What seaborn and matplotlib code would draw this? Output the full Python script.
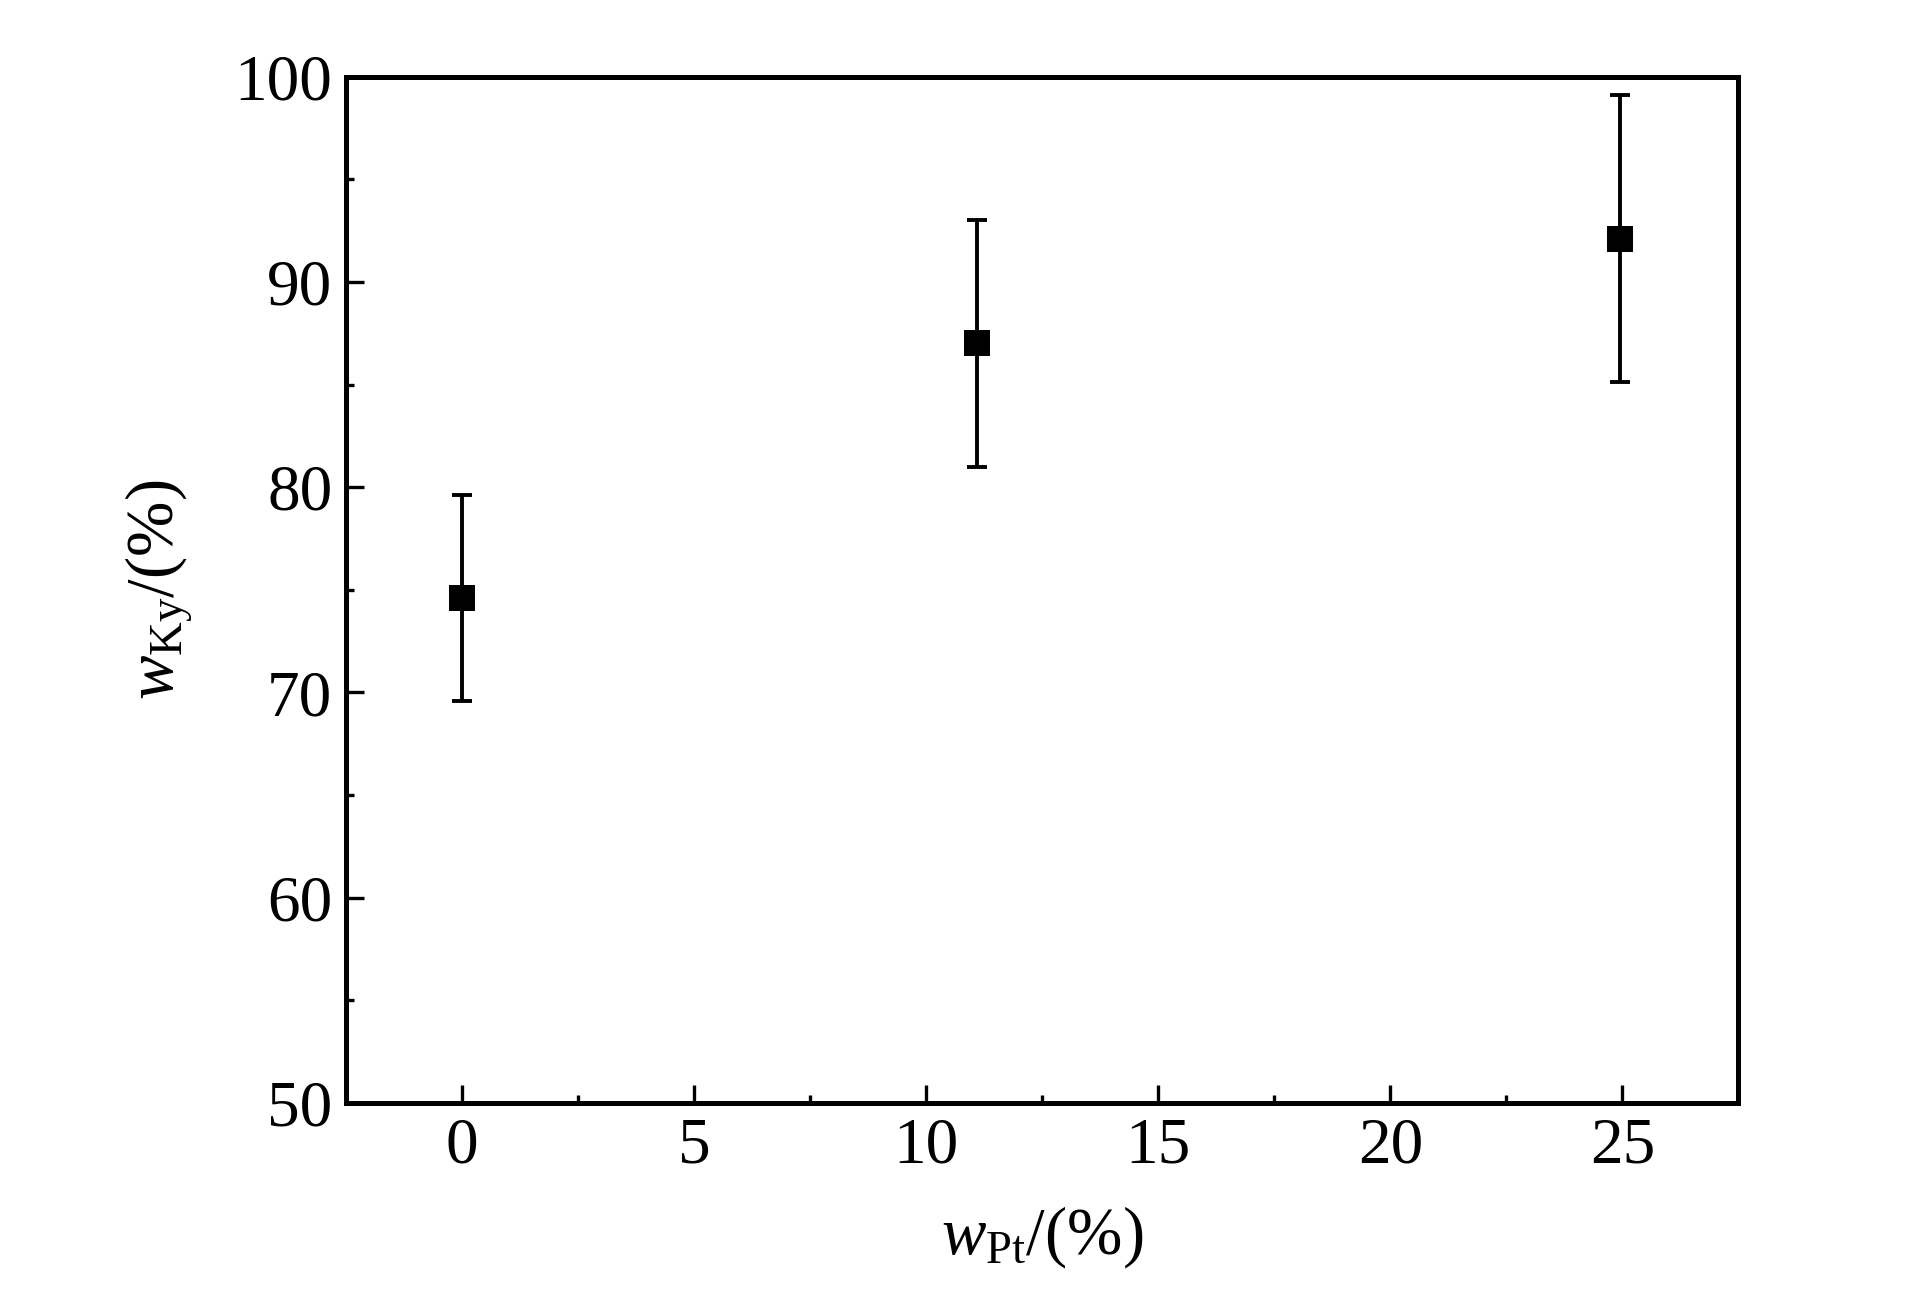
import numpy as np
import pandas as pd
import seaborn as sns
import matplotlib.pyplot as plt
from matplotlib.ticker import MultipleLocator

w_pt = [0, 11.1, 24.95]
w_ky = [74.6, 87.0, 92.1]
err = [5.0, 6.0, 7.0]

data = pd.DataFrame({'w_pt': w_pt, 'w_ky': w_ky, 'err': err})

sns.set_theme(style="white")
plt.rcParams['font.family'] = ['Liberation Serif', 'DejaVu Serif']
plt.rcParams['mathtext.fontset'] = 'custom'
plt.rcParams['mathtext.rm'] = 'Liberation Serif'
plt.rcParams['mathtext.it'] = 'Liberation Serif:italic'
plt.rcParams['text.color'] = 'black'
plt.rcParams['axes.labelcolor'] = 'black'

fig, ax = plt.subplots(figsize=(19.23, 12.99), dpi=100)
fig.subplots_adjust(left=0.18, right=0.904, top=0.941, bottom=0.151)

ax.errorbar(data['w_pt'], data['w_ky'], yerr=data['err'], fmt='none',
            ecolor='black', elinewidth=2.8, capsize=7.5, capthick=2.8, zorder=2)
sns.scatterplot(x='w_pt', y='w_ky', data=data, marker='s', s=330, color='black',
                edgecolor='black', linewidth=0, ax=ax, zorder=3)

ax.set_xlim(-2.5, 27.5)
ax.set_ylim(50, 100)
ax.xaxis.set_major_locator(MultipleLocator(5))
ax.xaxis.set_minor_locator(MultipleLocator(2.5))
ax.yaxis.set_major_locator(MultipleLocator(10))
ax.yaxis.set_minor_locator(MultipleLocator(5))
ax.tick_params(which='both', direction='in', top=False, right=False, bottom=True, left=True,
               width=2.4, colors='black', labelcolor='black', labelsize=47)
ax.tick_params(which='major', length=13, pad=10)
ax.tick_params(which='minor', length=6)

for sp in ax.spines.values():
    sp.set_linewidth(3.6)
    sp.set_color('black')

ax.set_xlabel(r'$\mathit{w}_{\mathrm{Pt}}$/(%)', fontsize=48, labelpad=20, color='black')
ax.set_ylabel(r'$\mathit{w}_{\mathrm{Ky}}$/(%)', fontsize=48, labelpad=28, color='black')

plt.savefig('out.png', dpi=100)
